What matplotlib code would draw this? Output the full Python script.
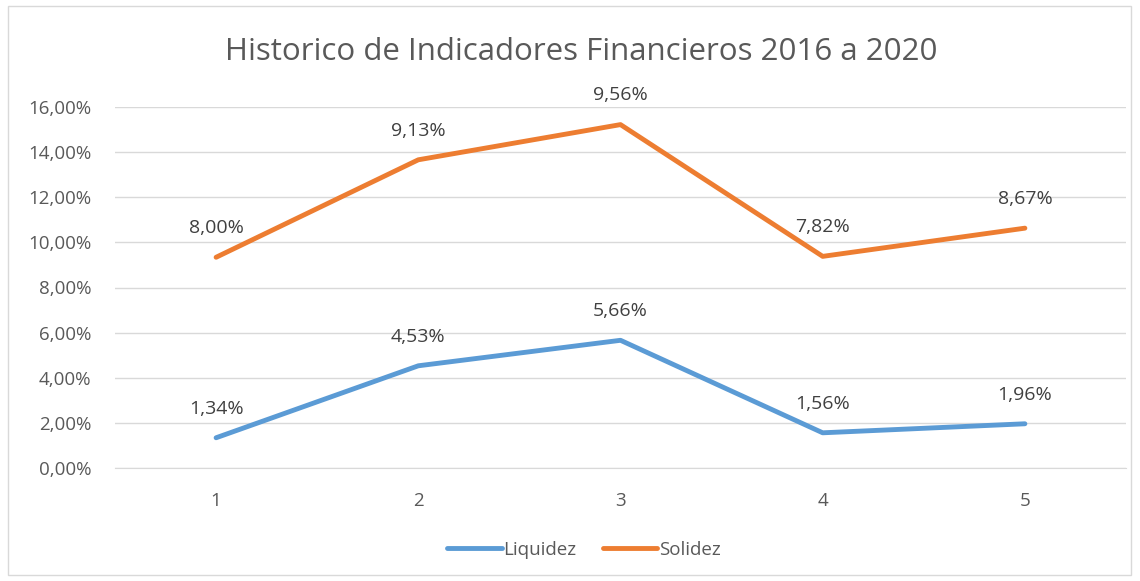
import matplotlib.pyplot as plt
from matplotlib.patches import Rectangle
from matplotlib.ticker import FuncFormatter

categories = ['1', '2', '3', '4', '5']
liquidez = [1.34, 4.53, 5.66, 1.56, 1.96]
solidez = [8.00, 9.13, 9.56, 7.82, 8.67]

plt.rcParams['font.family'] = ['Open Sans', 'DejaVu Sans']

fig = plt.figure(figsize=(11.4, 5.81), dpi=100)
ax = fig.add_axes([115 / 1140, 1 - 468 / 581, (1126 - 115) / 1140, (468 - 107) / 581])

# stacked line: Solidez is drawn on top of Liquidez
x = list(range(1, len(categories) + 1))
solidez_top = [a + b for a, b in zip(liquidez, solidez)]

ax.plot(x, liquidez, color='#5B9BD5', lw=3.5, solid_capstyle='round', label='Liquidez', zorder=3)
ax.plot(x, solidez_top, color='#ED7D31', lw=3.5, solid_capstyle='round', label='Solidez', zorder=3)

for xi, y, v in zip(x, liquidez, liquidez):
    ax.annotate(f'{v:.2f}%'.replace('.', ','), (xi, y), xytext=(0, 14.5), textcoords='offset points',
                ha='center', va='bottom', fontsize=14, color='#404040')
for xi, y, v in zip(x, solidez_top, solidez):
    ax.annotate(f'{v:.2f}%'.replace('.', ','), (xi, y), xytext=(0, 14.5), textcoords='offset points',
                ha='center', va='bottom', fontsize=14, color='#404040')

ax.set_xlim(0.5, 5.5)
ax.set_ylim(0, 16)
ax.set_yticks(range(0, 17, 2))
ax.yaxis.set_major_formatter(FuncFormatter(lambda v, p: f'{v:.2f}%'.replace('.', ',')))
ax.set_xticks(x)
ax.set_xticklabels(categories)
ax.grid(axis='y', color='#D9D9D9', lw=1)
ax.set_axisbelow(True)
for s in ['top', 'right', 'left']:
    ax.spines[s].set_visible(False)
ax.spines['bottom'].set_color('#D9D9D9')
ax.tick_params(length=0, labelsize=13.5, colors='#595959')
ax.tick_params(axis='x', pad=17)
ax.tick_params(axis='y', pad=17)

fig.text(581 / 1140, 1 - 52 / 581, 'Historico de Indicadores Financieros 2016 a 2020',
         ha='center', va='center', fontsize=22.5, color='#595959')

fig.legend(loc='center', bbox_to_anchor=(584 / 1140, 1 - 550 / 581), ncol=2, frameon=False,
           fontsize=13.5, labelcolor='#595959', handlelength=2.9, handletextpad=0.1, columnspacing=1.4)

fig.patches.append(Rectangle((8 / 1140, 6 / 581), 1123 / 1140, 569 / 581, transform=fig.transFigure,
                             fill=False, edgecolor='#D9D9D9', lw=1))

fig.savefig('out.png', dpi=100)
